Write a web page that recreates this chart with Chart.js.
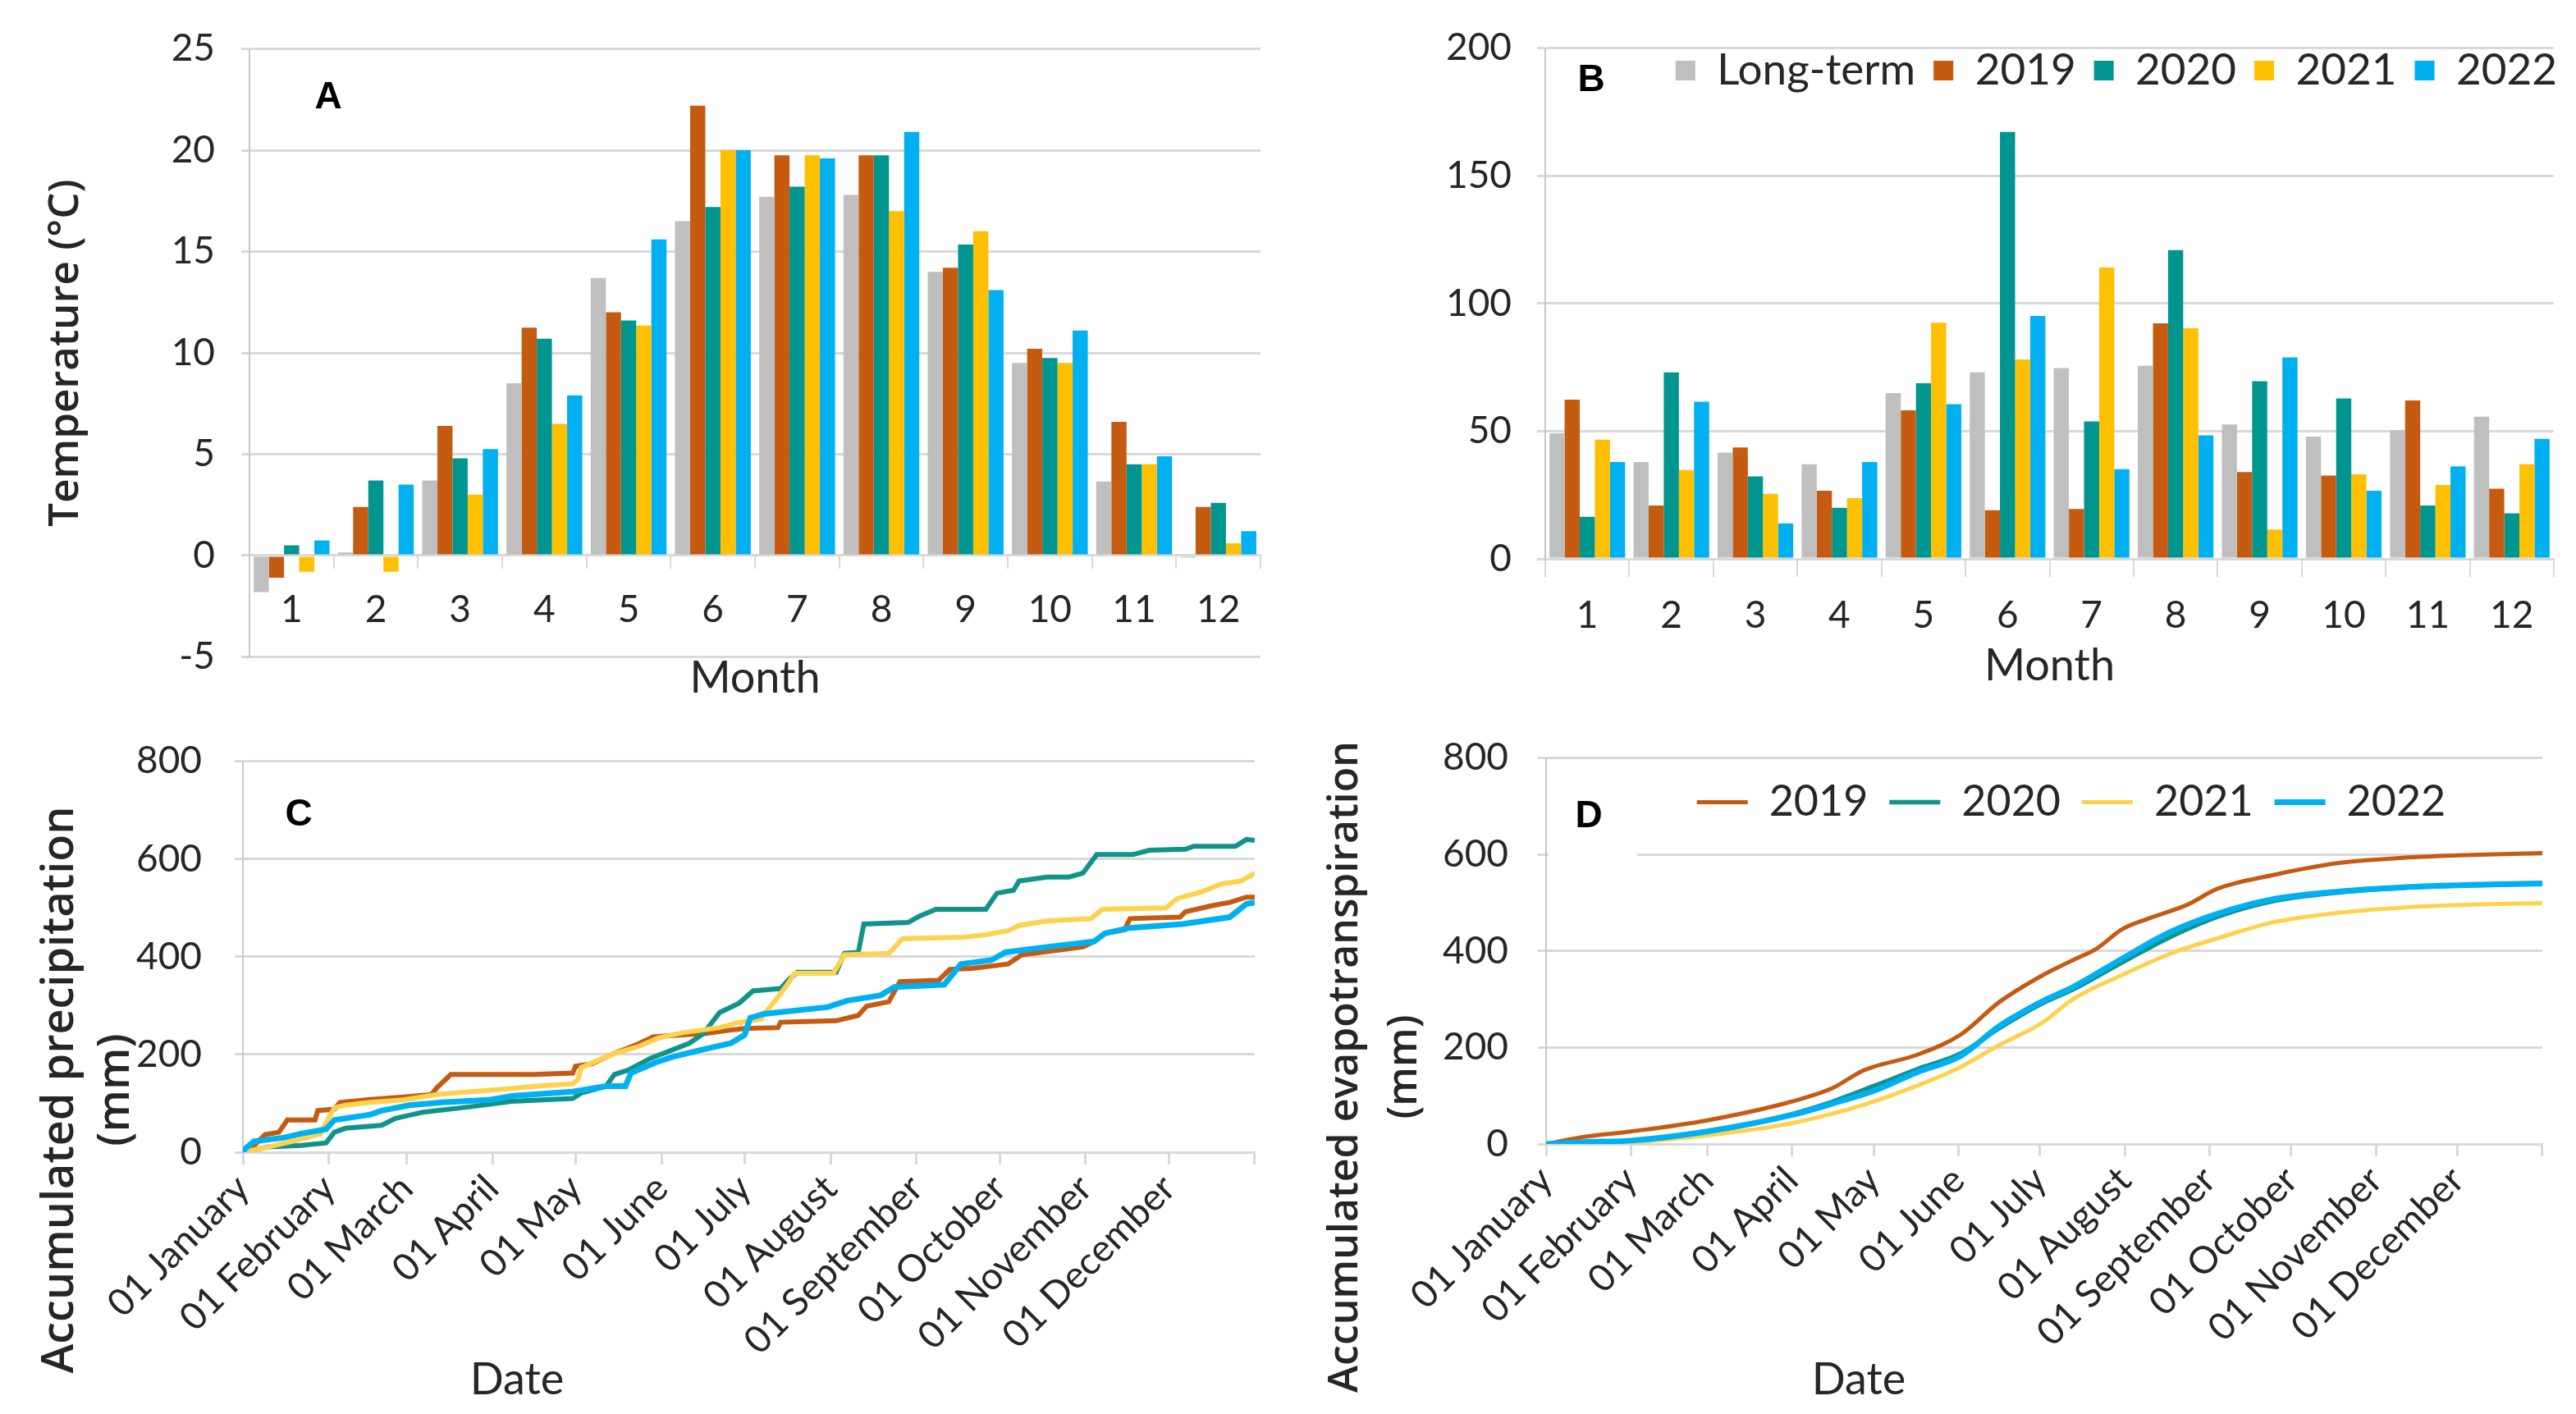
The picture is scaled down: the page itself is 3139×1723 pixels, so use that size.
<!DOCTYPE html>
<html>
<head>
<meta charset="utf-8">
<script src="https://cdn.jsdelivr.net/npm/chart.js@4.4.1/dist/chart.umd.min.js"></script>
<style>
  html, body { margin: 0; padding: 0; background: #fff; }
  body { width: 3139px; height: 1723px; position: relative; overflow: hidden; }
  .panel { position: absolute; }
  #boxA { left: 0; top: 0; width: 1560px; height: 860px; }
  #boxB { left: 1570px; top: 0; width: 1569px; height: 860px; }
  #boxC { left: 0; top: 860px; width: 1570px; height: 863px; }
  #boxD { left: 1570px; top: 860px; width: 1569px; height: 863px; }
</style>
</head>
<body>
<div class="panel" id="boxA"><canvas id="chartA"></canvas></div>
<div class="panel" id="boxB"><canvas id="chartB"></canvas></div>
<div class="panel" id="boxC"><canvas id="chartC"></canvas></div>
<div class="panel" id="boxD"><canvas id="chartD"></canvas></div>
<script>
// Categories and labels
const months = ['1', '2', '3', '4', '5', '6', '7', '8', '9', '10', '11', '12'];
const seriesNames = ['Long-term', '2019', '2020', '2021', '2022'];
const monthStartDays = [0, 31, 59, 90, 120, 151, 181, 212, 243, 273, 304, 334, 365];
const monthStartLabels = ['01 January', '01 February', '01 March', '01 April', '01 May', '01 June',
  '01 July', '01 August', '01 September', '01 October', '01 November', '01 December', ''];

// A - monthly temperature (°C)
const tempLongTerm = [-1.8, 0.15, 3.7, 8.5, 13.7, 16.5, 17.7, 17.8, 14.0, 9.5, 3.65, -0.1];
const temp2019 = [-1.1, 2.4, 6.4, 11.25, 12.0, 22.2, 19.75, 19.75, 14.2, 10.2, 6.6, 2.4];
const temp2020 = [0.5, 3.7, 4.8, 10.7, 11.6, 17.2, 18.2, 19.75, 15.35, 9.75, 4.5, 2.6];
const temp2021 = [-0.8, -0.8, 3.0, 6.5, 11.35, 20.0, 19.75, 17.0, 16.0, 9.5, 4.5, 0.6];
const temp2022 = [0.75, 3.5, 5.25, 7.9, 15.6, 20.0, 19.6, 20.9, 13.1, 11.1, 4.9, 1.2];

// B - monthly precipitation (mm)
const rainLongTerm = [49.2, 37.9, 41.6, 37.0, 64.9, 73.0, 74.7, 75.6, 52.6, 47.9, 50.4, 55.7];
const rain2019 = [62.3, 20.9, 43.6, 26.7, 58.2, 19.0, 19.5, 92.2, 34.0, 32.6, 62.0, 27.5];
const rain2020 = [16.5, 73.0, 32.3, 20.0, 68.8, 167.2, 53.8, 120.9, 69.6, 62.8, 20.9, 17.8];
const rain2021 = [46.7, 34.8, 25.5, 23.8, 92.5, 78.1, 114.1, 90.3, 11.5, 33.1, 28.9, 37.0];
const rain2022 = [37.9, 61.5, 13.9, 37.9, 60.6, 95.1, 35.1, 48.4, 78.9, 26.7, 36.2, 47.0];

// C - accumulated precipitation (mm), [day of year, value]
const accPrec2019 = [[0, 0], [3, 8], [8, 36], [13, 41], [16, 66], [26, 66], [27, 85], [33, 88], [35, 102],
  [46, 108], [58, 113], [68, 118], [70, 132], [75, 159], [105, 159], [119, 162], [120, 176], [126, 181],
  [133, 200], [142, 220], [148, 236], [155, 239], [167, 243], [176, 250], [181, 253], [193, 255], [194, 266],
  [214, 269], [222, 280], [225, 299], [233, 308], [237, 349], [251, 352], [255, 374], [263, 376], [276, 385],
  [281, 404], [303, 420], [307, 431], [311, 448], [318, 455], [320, 478], [338, 481], [340, 492], [350, 505],
  [356, 511], [362, 522], [365, 522]];
const accPrec2020 = [[0, 0], [9, 11], [21, 14], [30, 19], [33, 41], [37, 49], [50, 55], [55, 69], [65, 82],
  [82, 93], [97, 104], [119, 110], [122, 121], [131, 135], [134, 159], [139, 168], [147, 192], [161, 223],
  [166, 242], [172, 286], [179, 305], [184, 330], [194, 335], [197, 354], [200, 368], [214, 368], [217, 407],
  [222, 409], [224, 467], [240, 470], [244, 483], [250, 497], [268, 497], [272, 530], [278, 536], [280, 555],
  [290, 563], [298, 563], [303, 571], [308, 609], [321, 609], [327, 618], [340, 620], [343, 626], [358, 626],
  [362, 640], [365, 638]];
const accPrec2021 = [[0, 0], [10, 12], [20, 25], [28, 38], [30, 60], [33, 91], [37, 96], [46, 102], [58, 107],
  [70, 118], [82, 124], [94, 129], [106, 135], [119, 140], [121, 150], [122, 173], [133, 200], [143, 217],
  [150, 234], [159, 245], [172, 255], [179, 266], [187, 272], [188, 283], [192, 310], [196, 340], [199, 366],
  [213, 366], [217, 404], [233, 407], [238, 437], [260, 440], [268, 445], [276, 453], [280, 464], [290, 473],
  [306, 478], [310, 497], [333, 500], [337, 519], [346, 533], [353, 549], [360, 555], [365, 571]];
const accPrec2022 = [[0, 0], [1, 8], [4, 22], [15, 30], [21, 38], [30, 47], [33, 66], [46, 77], [50, 85],
  [60, 96], [72, 102], [89, 107], [97, 115], [119, 124], [131, 135], [138, 135], [140, 162], [149, 184],
  [155, 195], [165, 209], [176, 223], [181, 240], [183, 275], [188, 283], [211, 297], [218, 310], [230, 321],
  [235, 338], [253, 343], [259, 385], [270, 393], [275, 409], [290, 420], [307, 431], [311, 448], [320, 459],
  [339, 467], [356, 481], [362, 508], [365, 511]];

// D - accumulated evapotranspiration (mm), [day of year, value]
const accEt2019 = [[0, 0], [14, 15], [31, 26], [59, 49], [90, 88], [105, 116], [115, 149], [120, 160],
  [136, 185], [152, 227], [166, 294], [182, 350], [193, 381], [202, 406], [211, 445], [221, 468], [235, 496],
  [246, 529], [266, 557], [290, 582], [314, 593], [339, 599], [365, 603]];
const accEt2020 = [[0, 0], [31, 6], [59, 24], [90, 62], [105, 88], [120, 120], [136, 155], [152, 188],
  [166, 240], [182, 292], [193, 320], [211, 376], [229, 430], [247, 473], [266, 503], [290, 521], [314, 531],
  [339, 536], [365, 539]];
const accEt2021 = [[0, 0], [31, 4], [59, 18], [90, 43], [105, 63], [120, 88], [136, 121], [152, 160],
  [166, 205], [182, 252], [193, 300], [211, 350], [229, 395], [247, 428], [266, 459], [290, 479], [314, 490],
  [339, 496], [365, 499]];
const accEt2022 = [[0, 0], [14, 4], [31, 7], [59, 26], [90, 60], [105, 84], [120, 110], [136, 149], [152, 183],
  [166, 244], [182, 296], [193, 325], [211, 384], [229, 440], [247, 479], [266, 507], [290, 523], [314, 532],
  [339, 537], [365, 540]];

// Colours
const barColors = ['#BFBFBF', '#C55A11', '#00968F', '#FFC000', '#00B0F0'];
const lineColors = ['#C55A11', '#10938A', '#FFD24D', '#00B0F0'];
const gridColor = '#D9D9D9';
const axisColor = '#C8C8C8';
const textColor = '#262626';
const titleFont = '"Open Sans", "DejaVu Sans", sans-serif';

Chart.defaults.font.family = 'Lato, "Liberation Sans", sans-serif';
Chart.defaults.color = textColor;
Chart.defaults.animation = false;

// Panel letter, optional white text box, free-placed axis titles, legend drawn over the plot
const panelText = {
  id: 'panelText',
  afterLayout(chart, args, opts) {
    // legend keeps 1px in the layout, then is moved/grown so it is drawn inside the plot
    const lg = chart.legend;
    if (opts.legendBox && lg) {
      const [dx, dy, h] = opts.legendBox;
      lg.left += dx;
      lg.right += dx;
      lg.top += dy;
      lg.height = h;
      lg.bottom = lg.top + h;
    }
  },
  beforeDatasetsDraw(chart, args, opts) {
    const {ctx, chartArea} = chart;
    ctx.save();
    if (opts.blank) {
      ctx.fillStyle = '#fff';
      ctx.fillRect(chartArea.left + opts.blank[0], chartArea.top + opts.blank[1], opts.blank[2], opts.blank[3]);
    }
    ctx.fillStyle = '#000';
    ctx.font = 'bold 46px "Liberation Sans", Arial, sans-serif';
    ctx.textAlign = 'center';
    ctx.textBaseline = 'middle';
    ctx.fillText(opts.letter, chartArea.left + opts.letterAt[0], chartArea.top + opts.letterAt[1]);
    ctx.restore();
  },
  afterDraw(chart, args, opts) {
    const {ctx, chartArea} = chart;
    ctx.save();
    ctx.fillStyle = textColor;
    ctx.textAlign = 'center';
    ctx.textBaseline = 'middle';
    if (opts.xTitle) {
      ctx.font = '54px Lato, "Liberation Sans", sans-serif';
      ctx.fillText(opts.xTitle, chartArea.left + opts.xTitleAt[0], opts.xTitleAt[1]);
    }
    if (opts.yTitle) {
      ctx.font = '600 ' + opts.yTitleSize + 'px ' + titleFont;
      opts.yTitle.forEach(t => {
        ctx.save();
        ctx.translate(t.at[0], t.at[1]);
        ctx.rotate(-Math.PI / 2);
        ctx.fillText(t.text, 0, 0);
        ctx.restore();
      });
    }
    ctx.restore();
  }
};

function barSets(values) {
  return values.map((v, i) => ({
    label: seriesNames[i],
    data: v,
    backgroundColor: barColors[i],
    borderWidth: 0
  }));
}

function lineSets(values, widths, smooth) {
  return values.map((v, i) => ({
    label: seriesNames[i + 1],
    data: v.map(p => ({x: p[0], y: p[1]})),
    borderColor: lineColors[i],
    backgroundColor: lineColors[i],
    borderWidth: widths[i],
    pointRadius: 0,
    fill: false,
    tension: 0,
    cubicInterpolationMode: smooth ? 'monotone' : 'default',
    order: values.length - i
  }));
}

function yScale(min, max, step, width, pad, title) {
  const s = {
    min: min, max: max,
    ticks: {stepSize: step, padding: pad, font: {size: 46}},
    grid: {color: gridColor, lineWidth: 3, tickLength: 10},
    border: {color: axisColor, width: 2},
    afterFit: (scale) => { scale.width = width; }
  };
  if (title) {
    s.title = {display: true, text: title.text, color: textColor,
      font: {family: titleFont, size: title.size, weight: '600', lineHeight: 1.2},
      padding: {top: title.pad, bottom: 0}};
  }
  return s;
}

function dateScale(height) {
  return {
    type: 'linear', min: 0, max: 365,
    afterBuildTicks: (scale) => { scale.ticks = monthStartDays.map(d => ({value: d})); },
    ticks: {
      autoSkip: false, minRotation: 45, maxRotation: 45, padding: 2, font: {size: 46},
      callback: (value, index) => monthStartLabels[index]
    },
    grid: {drawOnChartArea: false, color: gridColor, lineWidth: 3, tickLength: 15},
    border: {color: gridColor, width: 3},
    afterFit: (scale) => { scale.height = height; }
  };
}

// A - temperature
new Chart(document.getElementById('chartA'), {
  type: 'bar',
  data: {labels: months, datasets: barSets([tempLongTerm, temp2019, temp2020, temp2021, temp2022])},
  options: {
    responsive: true, maintainAspectRatio: false,
    layout: {padding: {top: 54, right: 24, bottom: 0, left: 0}},
    datasets: {bar: {categoryPercentage: 0.9, barPercentage: 1}},
    plugins: {
      legend: {display: false}, tooltip: {enabled: false},
      panelText: {letter: 'A', letterAt: [96, 60]}
    },
    scales: {
      x: {
        position: {y: 0},
        grid: {offset: true, drawOnChartArea: false, color: gridColor, lineWidth: 2, tickLength: 15},
        border: {color: gridColor, width: 3},
        ticks: {padding: 24, font: {size: 46}},
        title: {display: true, text: 'Month', font: {size: 54}, padding: {top: 0, bottom: -116}},
        afterFit: (scale) => { scale.height = 66; }
      },
      y: yScale(-5, 25, 5, 304, 32, {text: 'Temperature (°C)', size: 51, pad: 50})
    }
  },
  plugins: [panelText]
});

// B - precipitation
new Chart(document.getElementById('chartB'), {
  type: 'bar',
  data: {labels: months, datasets: barSets([rainLongTerm, rain2019, rain2020, rain2021, rain2022])},
  options: {
    responsive: true, maintainAspectRatio: false,
    layout: {padding: {top: 33, right: 27, bottom: 0, left: 0}},
    datasets: {bar: {categoryPercentage: 0.9, barPercentage: 1}},
    plugins: {
      legend: {
        position: 'top', align: 'end', maxHeight: 1,
        labels: {boxWidth: 24, boxHeight: 24, padding: 22, color: textColor, font: {size: 53}}
      },
      tooltip: {enabled: false},
      panelText: {letter: 'B', letterAt: [56, 40], legendBox: [26, -20, 110]}
    },
    scales: {
      x: {
        grid: {offset: true, drawOnChartArea: false, color: gridColor, lineWidth: 2, tickLength: 22},
        border: {color: gridColor, width: 3},
        ticks: {padding: 20, font: {size: 46}},
        title: {display: true, text: 'Month', font: {size: 54}, padding: {top: 0, bottom: 16}},
        afterFit: (scale) => { scale.height = 179; }
      },
      y: yScale(0, 200, 50, 313, 31)
    }
  },
  plugins: [panelText]
});

// C - accumulated precipitation
new Chart(document.getElementById('chartC'), {
  type: 'line',
  data: {datasets: lineSets([accPrec2019, accPrec2020, accPrec2021, accPrec2022], [6, 6, 6, 7], false)},
  options: {
    responsive: true, maintainAspectRatio: false,
    layout: {padding: {top: 62, right: 34, bottom: 0, left: 0}},
    plugins: {
      legend: {display: false}, tooltip: {enabled: false},
      panelText: {
        letter: 'C', letterAt: [68, 66], xTitle: 'Date', xTitleAt: [334, 822],
        yTitleSize: 54,
        yTitle: [{text: 'Accumulated precipitation', at: [74, 468]}, {text: '(mm)', at: [142, 468]}]
      }
    },
    scales: {
      x: dateScale(319),
      y: yScale(0, 800, 200, 296, 40)
    }
  },
  plugins: [panelText]
});

// D - accumulated evapotranspiration
new Chart(document.getElementById('chartD'), {
  type: 'line',
  data: {datasets: lineSets([accEt2019, accEt2020, accEt2021, accEt2022], [5, 5.5, 5, 7], true)},
  options: {
    responsive: true, maintainAspectRatio: false,
    layout: {padding: {top: 61, right: 27, bottom: 0, left: 0}},
    plugins: {
      legend: {
        position: 'top', align: 'center', maxHeight: 1, fullSize: false,
        labels: {
          usePointStyle: true, pointStyle: 'line', pointStyleWidth: 62, padding: 26,
          color: textColor, font: {size: 52},
          sort: (a, b) => a.datasetIndex - b.datasetIndex
        }
      },
      tooltip: {enabled: false},
      panelText: {
        letter: 'D', letterAt: [52, 72], blank: [3, 20, 108, 105], xTitle: 'Date', xTitleAt: [381, 822],
        legendBox: [33, 3, 120],
        yTitleSize: 50,
        yTitle: [{text: 'Accumulated evapotranspiration', at: [70, 440]}, {text: '(mm)', at: [142, 440]}]
      }
    },
    scales: {
      x: dateScale(329),
      y: yScale(0, 800, 200, 314, 36)
    }
  },
  plugins: [panelText]
});
</script>
</body>
</html>
